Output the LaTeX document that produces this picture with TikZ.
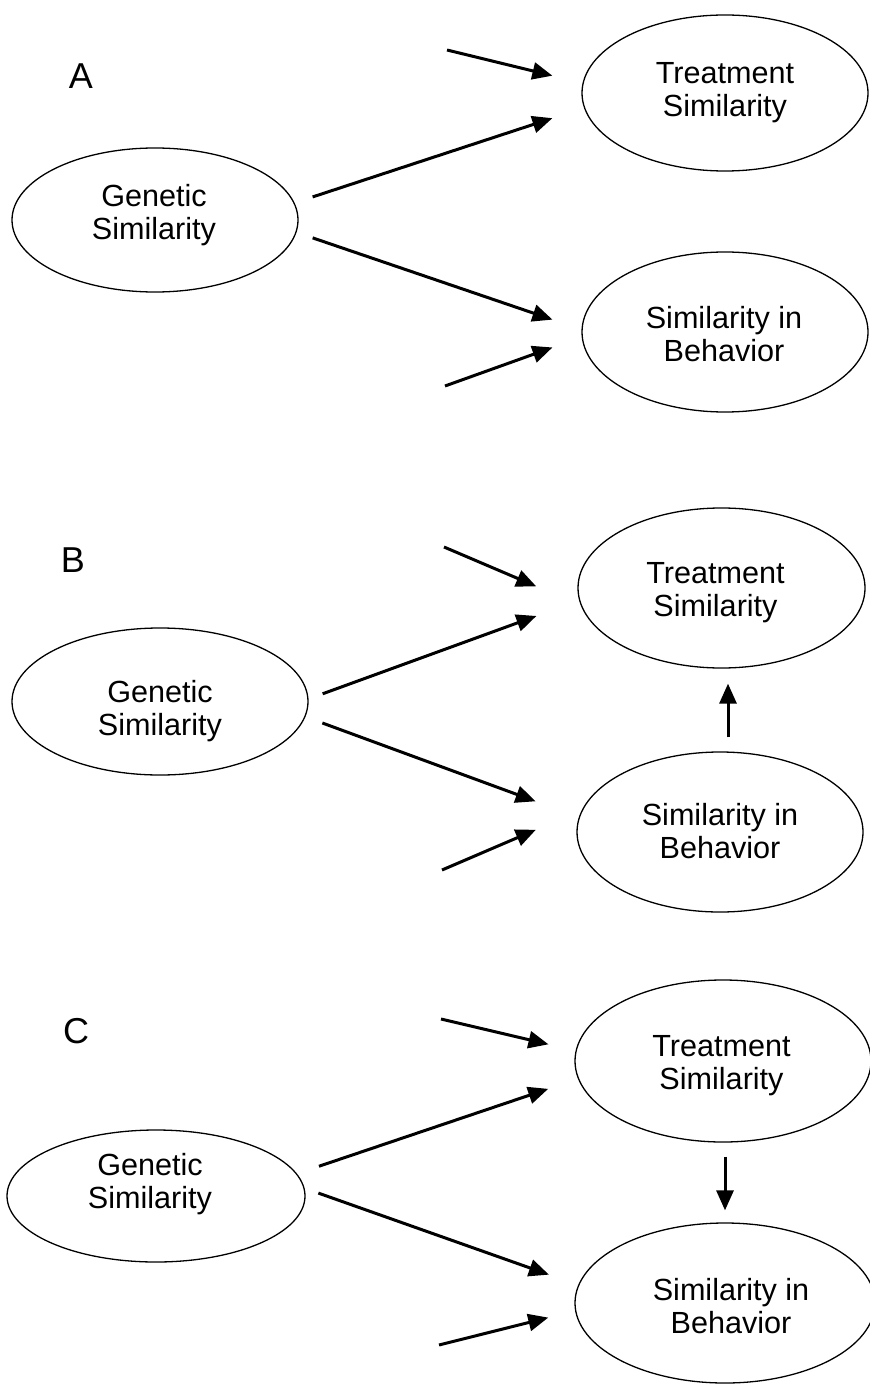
\documentclass[tikz,border=0pt]{standalone}
\usepackage{fontspec}
\setmainfont{Liberation Sans}
\usetikzlibrary{shapes.geometric,arrows.meta}

\begin{document}
\begin{tikzpicture}[x=0.5pt,y=-0.5pt,
    txt/.style={font=\fontsize{15.3}{16.5}\selectfont,align=center},
    lab/.style={font=\fontsize{18}{20}\selectfont},
    ell/.style={ellipse,draw,line width=0.65pt,inner sep=0pt},
    arr/.style={-{Triangle[length=10pt,width=8.5pt]},line width=1.5pt}]
        \useasboundingbox (0,0) rectangle (869,1385);
        \node[lab] (labA) at (81,76) {A};
        \node[ell,minimum width=143pt,minimum height=72pt] (gA) at (155,220) {};
        \node[ell,minimum width=143pt,minimum height=78pt] (tA) at (725,93) {};
        \node[ell,minimum width=143pt,minimum height=80pt] (bA) at (725,332) {};
        \node[txt] (gAt) at (154,215) {Genetic\\Similarity};
        \node[txt] (tAt) at (725,93) {Treatment\\Similarity};
        \node[txt] (bAt) at (724,334) {Similarity in\\Behavior};
        \coordinate (fA1) at (447,50);
        \coordinate (fA2) at (445,386);
        \draw[arr,shorten <=9.5pt,shorten >=16.6pt] (gA.7) -- (tA.186);
        \draw[arr,shorten <=8.5pt,shorten >=15.3pt] (gA.-5) -- (bA.179);
        \draw[arr,shorten >=15.5pt] (fA1) -- (tA.176);
        \draw[arr,shorten >=15.5pt] (fA2) -- (bA.182);
        \node[lab] (labB) at (73,560) {B};
        \node[ell,minimum width=148pt,minimum height=73.5pt] (gB) at (160,701.5) {};
        \node[ell,minimum width=143.5pt,minimum height=80pt] (tB) at (721.5,588) {};
        \node[ell,minimum width=143pt,minimum height=80pt] (bB) at (720,832) {};
        \node[txt] (gBt) at (160,711) {Genetic\\Similarity};
        \node[txt] (tBt) at (715.5,593) {Treatment\\Similarity};
        \node[txt] (bBt) at (720,831) {Similarity in\\Behavior};
        \coordinate (fB1) at (444,547);
        \coordinate (fB2) at (442,870);
        \draw[arr,shorten <=7.5pt,shorten >=22.7pt] (gB.1) -- (tB.185);
        \draw[arr,shorten <=9pt,shorten >=23pt] (gB.-6) -- (bB.174);
        \draw[arr,shorten >=24.2pt] (fB1) -- (tB.187);
        \draw[arr,shorten >=25pt] (fB2) -- (bB.171);
        \draw[arr,shorten <=7pt,shorten >=7.5pt] ([xshift=4pt]bB.north) coordinate (vB) -- (vB |- tB.south);
        \node[lab] (labC) at (76,1031) {C};
        \node[ell,minimum width=149pt,minimum height=66pt] (gC) at (156,1196) {};
        \node[ell,minimum width=148pt,minimum height=81pt] (tC) at (723,1061) {};
        \node[ell,minimum width=150pt,minimum height=80pt] (bC) at (725,1303) {};
        \node[txt] (gCt) at (150,1184) {Genetic\\Similarity};
        \node[txt] (tCt) at (721.5,1066) {Treatment\\Similarity};
        \node[txt] (bCt) at (731,1306.5) {Similarity in\\Behavior};
        \coordinate (fC1) at (441,1019);
        \coordinate (fC2) at (439,1345);
        \draw[arr,shorten <=11.6pt,shorten >=15.7pt] (gC.9) -- (tC.187);
        \draw[arr,shorten <=7.3pt,shorten >=15.5pt] (gC.3) -- (bC.173);
        \draw[arr,shorten >=13.9pt] (fC1) -- (tC.176);
        \draw[arr,shorten >=13.8pt] (fC2) -- (bC.183);
        \draw[arr,shorten <=7pt,shorten >=6pt] ([xshift=1pt]tC.south) coordinate (vC) -- (vC |- bC.north);
      \end{tikzpicture}
\end{document}
